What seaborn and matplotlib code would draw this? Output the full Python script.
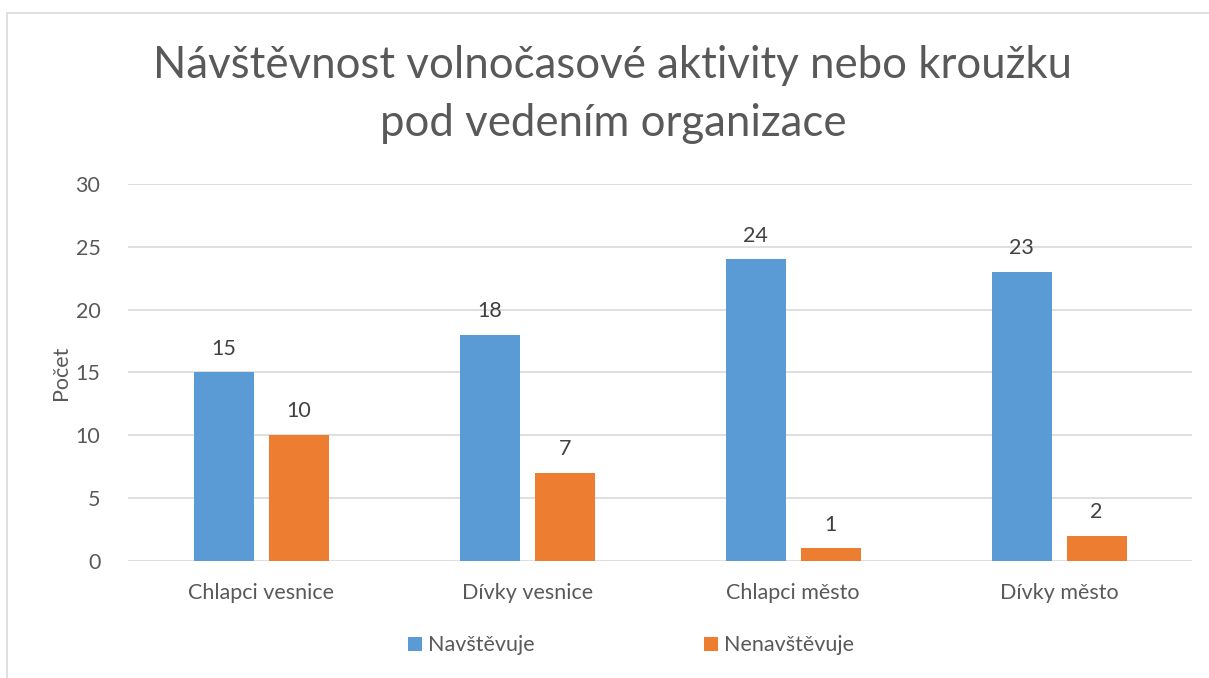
import pandas as pd
import matplotlib.pyplot as plt
import seaborn as sns
from matplotlib.patches import Rectangle

# data
categories = ["Chlapci vesnice", "Dívky vesnice", "Chlapci město", "Dívky město"]
navstevuje = [15, 18, 24, 23]
nenavstevuje = [10, 7, 1, 2]
series = ["Navštěvuje", "Nenavštěvuje"]
yticks = [0, 5, 10, 15, 20, 25, 30]
title_lines = ["Návštěvnost volnočasové aktivity nebo kroužku", "pod vedením organizace"]

df = pd.DataFrame({
    "kategorie": categories * 2,
    "pocet": navstevuje + nenavstevuje,
    "serie": [series[0]] * 4 + [series[1]] * 4,
})

sns.set_theme(style="white")
plt.rcParams["font.family"] = ["Lato", "DejaVu Sans"]
text_col = "#595959"

fig = plt.figure(figsize=(12.09, 6.78), dpi=100)
ax = fig.add_axes([0.106, 0.1726, 0.880, 0.556])

sns.barplot(data=df, x="kategorie", y="pocet", hue="serie",
            palette=["#5B9BD5", "#ED7D31"], width=0.564, gap=0.2,
            saturation=1, linewidth=0, ax=ax, legend=True)

for cont in ax.containers:
    ax.bar_label(cont, padding=10, fontsize=15.5, color="#404040")

ax.set_ylim(0, 30)
ax.set_yticks(yticks)
ax.set_xlim(-0.5, 3.5)
ax.yaxis.grid(True, color="#D9D9D9", linewidth=1.2)
ax.set_axisbelow(True)
for s in ax.spines.values():
    s.set_visible(False)
ax.tick_params(axis="both", length=0, labelsize=15.5, labelcolor=text_col)
ax.tick_params(axis="x", pad=16)
ax.tick_params(axis="y", pad=20)
ax.set_xlabel("")
ax.set_ylabel("Počet", fontsize=15.5, color=text_col, labelpad=3)

ax.legend_.remove()
handles, labels = ax.get_legend_handles_labels()
fig.legend(handles, labels, loc="center", bbox_to_anchor=(0.522, 0.048), ncol=2,
           frameon=False, fontsize=15.5, labelcolor=text_col, handlelength=0.65,
           handleheight=0.65, handletextpad=0.3, columnspacing=7.85)

fig.text(0.507, 1 - 65 / 678, title_lines[0], ha="center", va="center",
         fontsize=31.5, color=text_col)
fig.text(0.507, 1 - 124 / 678, title_lines[1], ha="center", va="center",
         fontsize=31.5, color=text_col)

# chart frame like the office export
fig.patches.append(Rectangle((7 / 1209, -0.1), 1.2, 1 - 13 / 678 + 0.1,
                             transform=fig.transFigure, fill=False,
                             edgecolor="#D9D9D9", linewidth=1.2))

fig.savefig("out.png", dpi=100)
